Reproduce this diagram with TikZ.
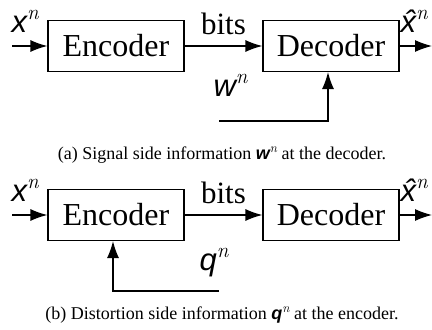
\documentclass[tikz,border=0pt]{standalone}
\usepackage{fontspec}
\setmainfont{Liberation Serif}
\setsansfont{Liberation Sans}
\newfontfamily\lmfam{Latin Modern Roman}
\usetikzlibrary{arrows.meta,positioning}
% sans slanted letter with serif italic superscript n
\newcommand{\sv}[2][21]{{\sffamily\itshape #2}\raisebox{.42em}{\fontsize{#1}{#1}\lmfam\itshape n}}

\begin{document}
\begin{tikzpicture}[x=1pt, y=1pt, >={Latex[length=17pt,width=12pt]}, line width=1.2pt,
  blk/.style={draw, minimum width=136pt, minimum height=51pt, inner sep=0pt,
    font=\fontsize{32}{36}\selectfont},
  lbl/.style={font=\fontsize{31}{34}\selectfont, inner sep=0pt},
  captxt/.style={font=\fontsize{18}{22}\selectfont}]
  \clip (0,0) rectangle (432,330);
  % (a) side information at the decoder
  \node[blk] (enc)  at (116,284) {Encoder};
  \node[blk] (dec)  at (331,284) {Decoder};
  \coordinate (xin)  at (12,284);
  \coordinate (xout) at (432,284);
  \coordinate (wst)  at (219,209);
  \node[lbl, anchor=base west] (xlbl)  at (11,297)  {\sv{x}};
  \node[lbl, anchor=base west] (xhlbl) at (400,297) {\sv{\^{x}}};
  \node[lbl, anchor=base west] (wlbl)  at (213,233) {\sv{w}};
  \draw[->] (xin) -- (enc);
  \draw[->] (enc) -- node[lbl, above=11pt] {bits} (dec);
  \draw[->] (dec) -- (xout);
  \draw[->] (wst) -| ([xshift=-3pt]dec.south);
  \node[captxt] (capa) at (222,175) {(a) Signal side information \sv[13]{\bfseries w} at the decoder.};
  % (b) side information at the encoder
  \node[blk] (enc2) at (116,115) {Encoder};
  \node[blk] (dec2) at (331,115) {Decoder};
  \coordinate (xin2)  at (12,115);
  \coordinate (xout2) at (432,115);
  \coordinate (qst)   at (219,39);
  \node[lbl, anchor=base west] (xlbl2)  at (11,128)  {\sv{x}};
  \node[lbl, anchor=base west] (xhlbl2) at (400,128) {\sv{\^{x}}};
  \node[lbl, anchor=base west] (qlbl)   at (199,59)  {\sv{q}};
  \draw[->] (xin2) -- (enc2);
  \draw[->] (enc2) -- node[lbl, above=11pt] {bits} (dec2);
  \draw[->] (dec2) -- (xout2);
  \draw[->] (qst) -| ([xshift=-3pt]enc2.south);
  \node[captxt] (capb) at (222,15) {(b) Distortion side information \sv[13]{\bfseries q} at the encoder.};
\end{tikzpicture}
\end{document}
